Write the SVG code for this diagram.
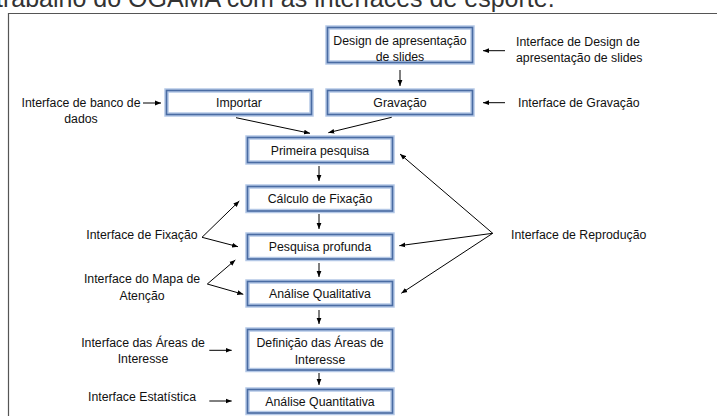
<svg xmlns="http://www.w3.org/2000/svg" width="717" height="416" viewBox="0 0 717 416">
<defs>
<marker id="ah" markerWidth="6" markerHeight="6" refX="6" refY="3" orient="auto" markerUnits="userSpaceOnUse">
<path d="M0,0.6 L6,3 L0,5.4 z" fill="#000"/>
</marker>
<style>
text{font-family:"Liberation Sans",Arial,sans-serif;font-size:12.3px;fill:#111}
.c{text-anchor:middle}
.glow{fill:#fff;stroke:#b4c8e6;stroke-width:4.5}
.bd{fill:none;stroke:#4a6ca3;stroke-width:1.6}
.cn line,.cn path{stroke:#000;stroke-width:1;fill:none;marker-end:url(#ah)}
.cap{font-size:25px;fill:#333}
</style>
</defs>
<rect width="717" height="416" fill="#fff"/>
<text class="cap" x="-4" y="6.5">trabalho do OGAMA com as interfaces de esporte.</text>
<path d="M8.5,420 V13.5 H720" fill="none" stroke="#555" stroke-width="1.2"/>

<g id="n-design"><rect class="glow" x="327.5" y="27.5" width="145" height="35"/><rect class="bd" x="327.5" y="27.5" width="145" height="35"/><text class="c" x="400" y="44.5">Design de apresentação</text><text class="c" x="400" y="60.5">de slides</text></g>
<g id="n-importar"><rect class="glow" x="166.5" y="90.5" width="145" height="24"/><rect class="bd" x="166.5" y="90.5" width="145" height="24"/><text class="c" x="239" y="106.5">Importar</text></g>
<g id="n-gravacao"><rect class="glow" x="327.5" y="90.5" width="145" height="24"/><rect class="bd" x="327.5" y="90.5" width="145" height="24"/><text class="c" x="400" y="106.5">Gravação</text></g>
<g id="n-primeira"><rect class="glow" x="247.5" y="137.5" width="145" height="25"/><rect class="bd" x="247.5" y="137.5" width="145" height="25"/><text class="c" x="320" y="154.5">Primeira pesquisa</text></g>
<g id="n-calculo"><rect class="glow" x="247.5" y="186.5" width="145" height="24.5"/><rect class="bd" x="247.5" y="186.5" width="145" height="24.5"/><text class="c" x="320" y="203">Cálculo de Fixação</text></g>
<g id="n-profunda"><rect class="glow" x="247.5" y="234.5" width="145" height="24.5"/><rect class="bd" x="247.5" y="234.5" width="145" height="24.5"/><text class="c" x="320" y="251">Pesquisa profunda</text></g>
<g id="n-qualitativa"><rect class="glow" x="247.5" y="281.5" width="145" height="24"/><rect class="bd" x="247.5" y="281.5" width="145" height="24"/><text class="c" x="320" y="298">Análise Qualitativa</text></g>
<g id="n-definicao"><rect class="glow" x="247.5" y="329.5" width="145" height="40.5"/><rect class="bd" x="247.5" y="329.5" width="145" height="40.5"/><text class="c" x="320" y="346.5">Definição das Áreas de</text><text class="c" x="320" y="363.5">Interesse</text></g>
<g id="n-quantitativa"><rect class="glow" x="247.5" y="389.5" width="145" height="23.5"/><rect class="bd" x="247.5" y="389.5" width="145" height="23.5"/><text class="c" x="320" y="405.5">Análise Quantitativa</text></g>

<g id="l-banco"><text class="c" x="81" y="106.5">Interface de banco de</text><text class="c" x="81" y="123">dados</text></g>
<g id="l-design"><text x="516" y="46">Interface de Design de</text><text x="516" y="62">apresentação de slides</text></g>
<g id="l-gravacao"><text x="518" y="106.5">Interface de Gravação</text></g>
<g id="l-fixacao"><text class="c" x="142" y="238.5">Interface de Fixação</text></g>
<g id="l-reproducao"><text x="511" y="238.5">Interface de Reprodução</text></g>
<g id="l-mapa"><text class="c" x="142" y="283">Interface do Mapa de</text><text class="c" x="142" y="300">Atenção</text></g>
<g id="l-areas"><text class="c" x="143" y="346.5">Interface das Áreas de</text><text class="c" x="143" y="363">Interesse</text></g>
<g id="l-estat"><text class="c" x="142" y="400.5">Interface Estatística</text></g>

<g id="connectors" class="cn">
<line x1="400" y1="70" x2="400" y2="86"/>
<line x1="319" y1="166" x2="319" y2="181"/>
<line x1="319" y1="214" x2="319" y2="229"/>
<line x1="319" y1="263" x2="319" y2="277"/>
<line x1="319" y1="310" x2="319" y2="324"/>
<line x1="319" y1="373" x2="319" y2="385"/>
<line x1="236" y1="117.7" x2="310" y2="133.3"/>
<line x1="391.7" y1="117.3" x2="328.3" y2="132.7"/>
<line x1="143" y1="103" x2="161" y2="103"/>
<line x1="505" y1="50.7" x2="483" y2="50.7"/>
<line x1="505" y1="102.7" x2="483" y2="102.7"/>
<line x1="202" y1="237.3" x2="239.3" y2="201"/>
<line x1="202" y1="237.3" x2="238" y2="246.7"/>
<line x1="207.3" y1="284" x2="235.3" y2="260"/>
<line x1="207.3" y1="284" x2="243.3" y2="294.3"/>
<line x1="209.3" y1="350.3" x2="231.7" y2="350.3"/>
<line x1="209.3" y1="401" x2="231.7" y2="401"/>
<line x1="492.7" y1="233.3" x2="400" y2="154"/>
<line x1="492.7" y1="233.3" x2="399.3" y2="245.7"/>
<line x1="492.7" y1="233.3" x2="401.3" y2="293.3"/>
</g>
</svg>
